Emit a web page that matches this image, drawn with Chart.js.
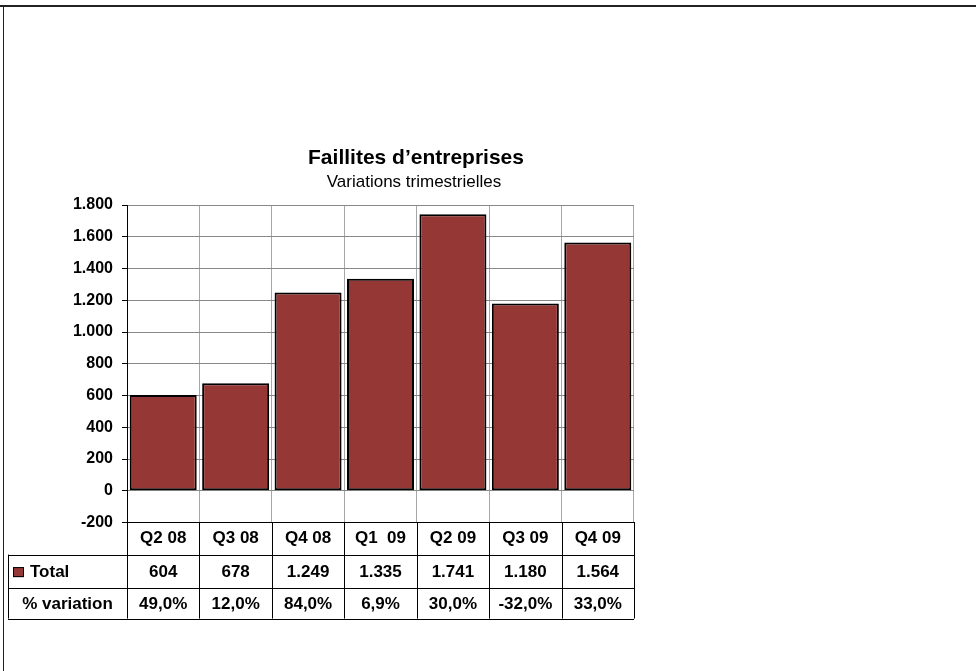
<!DOCTYPE html>
<html>
<head>
<meta charset="utf-8">
<script src="https://cdn.jsdelivr.net/npm/chart.js@4/dist/chart.umd.min.js"></script>
<style>
  body { margin: 0; background: #fff; }
  #wrap { width: 976px; height: 671px; }
</style>
</head>
<body>
<div id="wrap"><canvas id="myChart" width="976" height="671"></canvas></div>
<script>
// Data
const quarters = ['Q2 08', 'Q3 08', 'Q4 08', 'Q1  09', 'Q2 09', 'Q3 09', 'Q4 09'];
const totals = [604, 678, 1249, 1335, 1741, 1180, 1564];
const variations = [49.0, 12.0, 84.0, 6.9, 30.0, -32.0, 33.0];
const titleText = 'Faillites d\u2019entreprises';
const subtitleText = 'Variations trimestrielles';
const seriesName = 'Total';
const variationName = '% variation';

const barColor = '#953735';
const fontFam = '"Liberation Sans", Arial, sans-serif';

// 1800 -> "1.800"
function fmt(v) {
  return String(v).replace(/\B(?=(\d{3})+(?!\d))/g, '.');
}
function fmtPct(v) {
  return v.toFixed(1).replace('.', ',') + '%';
}

// frame, titles and the data table under the axis
const tablePlugin = {
  id: 'dataTable',
  afterDraw(chart) {
    const ctx = chart.ctx;
    const area = chart.chartArea;
    const x = chart.scales.x;
    const n = quarters.length;
    const cw = (area.right - area.left) / n;
    const top = area.bottom;
    const rows = [top + 32, top + 65, top + 96];
    const tabLeft = 8;

    ctx.save();
    // outer frame (top and left only)
    ctx.fillStyle = '#222';
    ctx.fillRect(0, 5, 976, 2);
    ctx.fillRect(3, 5, 1, 666);

    // titles
    ctx.fillStyle = '#000';
    ctx.textAlign = 'center';
    ctx.textBaseline = 'middle';
    ctx.font = 'bold 21px ' + fontFam;
    ctx.fillText(titleText, 416, 158);
    ctx.font = '17px ' + fontFam;
    ctx.fillText(subtitleText, 414, 182);

    // table lines
    ctx.strokeStyle = '#000';
    ctx.lineWidth = 1;
    ctx.beginPath();
    rows.forEach(y => {
      ctx.moveTo(tabLeft, Math.round(y) + 0.5);
      ctx.lineTo(area.right, Math.round(y) + 0.5);
    });
    ctx.moveTo(tabLeft + 0.5, rows[0]);
    ctx.lineTo(tabLeft + 0.5, rows[2]);
    for (let i = 0; i <= n; i++) {
      const px = Math.round(area.left + cw * i) + 0.5;
      ctx.moveTo(px, top);
      ctx.lineTo(px, rows[2]);
    }
    ctx.stroke();

    const y1 = (rows[0] + rows[1]) / 2 + 1;
    const y2 = (rows[1] + rows[2]) / 2 + 1;

    // row labels
    ctx.font = 'bold 17px ' + fontFam;
    ctx.fillStyle = barColor;
    ctx.fillRect(13, y1 - 5, 11, 10);
    ctx.strokeRect(13.5, y1 - 4.5, 10, 9);
    ctx.fillStyle = '#000';
    ctx.textAlign = 'left';
    ctx.fillText(seriesName, 30, y1);
    ctx.textAlign = 'center';
    ctx.fillText(variationName, (tabLeft + area.left) / 2, y2);

    // row values
    for (let i = 0; i < n; i++) {
      const cx = x.getPixelForValue(i);
      ctx.fillText(fmt(totals[i]), cx, y1);
      ctx.fillText(fmtPct(variations[i]), cx, y2);
    }
    ctx.restore();
  }
};

const ctx = document.getElementById('myChart').getContext('2d');
const myChart = new Chart(ctx, {
  type: 'bar',
  data: {
    labels: quarters,
    datasets: [{
      label: seriesName,
      data: totals,
      backgroundColor: barColor,
      borderColor: '#000',
      borderWidth: 2,
      borderSkipped: false,
      barPercentage: 0.925,
      categoryPercentage: 1.0
    }]
  },
  options: {
    responsive: false,
    animation: false,
    layout: { padding: { top: 205, right: 342, bottom: 116, left: 0 } },
    plugins: {
      legend: { display: false },
      title: { display: false },
      tooltip: { enabled: false }
    },
    scales: {
      x: {
        grid: { offset: true, color: '#a6a6a6', drawTicks: false },
        border: { color: '#000' },
        ticks: {
          padding: 6,
          color: '#000',
          font: { family: fontFam, size: 17, weight: 'bold' }
        }
      },
      y: {
        min: -200,
        max: 1800,
        afterFit(scale) { scale.width = 127; },
        grid: {
          color: c => (c.tick && c.tick.value === -200 ? '#000' : '#888'),
          tickColor: '#000',
          tickLength: 5
        },
        border: { color: '#000' },
        ticks: {
          stepSize: 200,
          padding: 9,
          color: '#000',
          font: { family: fontFam, size: 16, weight: 'bold' },
          callback: v => fmt(v)
        }
      }
    }
  },
  plugins: [tablePlugin]
});
</script>
</body>
</html>
